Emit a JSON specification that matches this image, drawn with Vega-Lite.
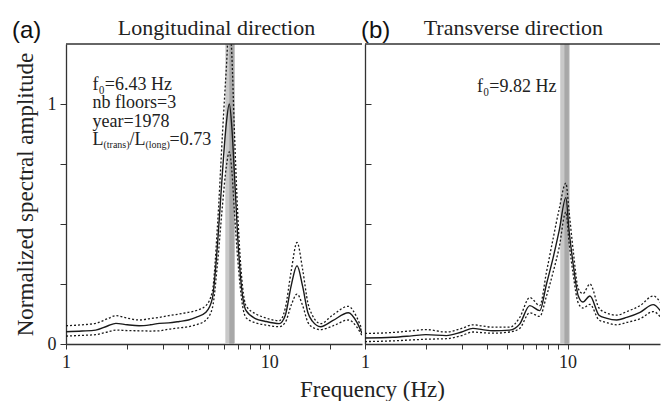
{
  "$schema": "https://vega.github.io/schema/vega-lite/v6.json",
  "padding": {"left": 12, "top": 17, "right": 0, "bottom": 0},
  "bounds": "flush",
  "spacing": 3,
  "config": {
    "view": {"stroke": null},
    "font": "Liberation Serif",
    "axis": {"grid": false, "domainColor": "#333", "tickColor": "#333", "domainWidth": 1.3, "labelFont": "Liberation Serif", "labelFontSize": 18, "labelColor": "#222", "titleFont": "Liberation Serif", "titleFontSize": 23, "titleFontWeight": "normal", "titleColor": "#222"}
  },
  "datasets": {
    "curves": [
      {"p": "a", "f": 1.0, "m": 0.051, "u": 0.076, "l": 0.033},
      {"p": "a", "f": 1.2, "m": 0.054, "u": 0.080, "l": 0.036},
      {"p": "a", "f": 1.4, "m": 0.058, "u": 0.086, "l": 0.039},
      {"p": "a", "f": 1.6, "m": 0.075, "u": 0.105, "l": 0.050},
      {"p": "a", "f": 1.76, "m": 0.086, "u": 0.118, "l": 0.058},
      {"p": "a", "f": 2.0, "m": 0.080, "u": 0.108, "l": 0.056},
      {"p": "a", "f": 2.29, "m": 0.076, "u": 0.100, "l": 0.055},
      {"p": "a", "f": 2.6, "m": 0.080, "u": 0.106, "l": 0.054},
      {"p": "a", "f": 2.88, "m": 0.086, "u": 0.111, "l": 0.055},
      {"p": "a", "f": 3.2, "m": 0.088, "u": 0.118, "l": 0.062},
      {"p": "a", "f": 3.61, "m": 0.094, "u": 0.125, "l": 0.067},
      {"p": "a", "f": 4.0, "m": 0.100, "u": 0.132, "l": 0.072},
      {"p": "a", "f": 4.36, "m": 0.111, "u": 0.139, "l": 0.080},
      {"p": "a", "f": 4.88, "m": 0.132, "u": 0.160, "l": 0.100},
      {"p": "a", "f": 5.25, "m": 0.19, "u": 0.22, "l": 0.15},
      {"p": "a", "f": 5.57, "m": 0.42, "u": 0.50, "l": 0.34},
      {"p": "a", "f": 5.89, "m": 0.72, "u": 0.88, "l": 0.58},
      {"p": "a", "f": 6.15, "m": 0.92, "u": 1.15, "l": 0.74},
      {"p": "a", "f": 6.36, "m": 1.0, "u": 1.35, "l": 0.80},
      {"p": "a", "f": 6.55, "m": 0.9, "u": 1.2, "l": 0.72},
      {"p": "a", "f": 6.73, "m": 0.72, "u": 0.9, "l": 0.56},
      {"p": "a", "f": 6.99, "m": 0.45, "u": 0.55, "l": 0.36},
      {"p": "a", "f": 7.39, "m": 0.2, "u": 0.24, "l": 0.16},
      {"p": "a", "f": 7.68, "m": 0.14, "u": 0.16, "l": 0.11},
      {"p": "a", "f": 8.6, "m": 0.105, "u": 0.125, "l": 0.088},
      {"p": "a", "f": 9.5, "m": 0.095, "u": 0.11, "l": 0.08},
      {"p": "a", "f": 11.2, "m": 0.085, "u": 0.097, "l": 0.072},
      {"p": "a", "f": 12.0, "m": 0.12, "u": 0.15, "l": 0.09},
      {"p": "a", "f": 12.8, "m": 0.24, "u": 0.3, "l": 0.16},
      {"p": "a", "f": 13.7, "m": 0.326, "u": 0.423, "l": 0.208},
      {"p": "a", "f": 14.6, "m": 0.24, "u": 0.31, "l": 0.16},
      {"p": "a", "f": 15.5, "m": 0.13, "u": 0.17, "l": 0.09},
      {"p": "a", "f": 16.3, "m": 0.095, "u": 0.12, "l": 0.07},
      {"p": "a", "f": 17.9, "m": 0.072, "u": 0.085, "l": 0.06},
      {"p": "a", "f": 20.5, "m": 0.097, "u": 0.12, "l": 0.075},
      {"p": "a", "f": 24.5, "m": 0.13, "u": 0.157, "l": 0.1},
      {"p": "a", "f": 27.0, "m": 0.09, "u": 0.11, "l": 0.07},
      {"p": "a", "f": 28.6, "m": 0.045, "u": 0.06, "l": 0.035},
      {"p": "b", "f": 1.0, "m": 0.025, "u": 0.044, "l": 0.010},
      {"p": "b", "f": 1.37, "m": 0.028, "u": 0.048, "l": 0.013},
      {"p": "b", "f": 1.7, "m": 0.034, "u": 0.055, "l": 0.017},
      {"p": "b", "f": 2.0, "m": 0.039, "u": 0.06, "l": 0.020},
      {"p": "b", "f": 2.52, "m": 0.035, "u": 0.05, "l": 0.022},
      {"p": "b", "f": 3.0, "m": 0.05, "u": 0.065, "l": 0.035},
      {"p": "b", "f": 3.41, "m": 0.065, "u": 0.08, "l": 0.05},
      {"p": "b", "f": 3.8, "m": 0.06, "u": 0.075, "l": 0.047},
      {"p": "b", "f": 4.28, "m": 0.055, "u": 0.07, "l": 0.045},
      {"p": "b", "f": 5.18, "m": 0.058, "u": 0.07, "l": 0.05},
      {"p": "b", "f": 5.8, "m": 0.083, "u": 0.11, "l": 0.065},
      {"p": "b", "f": 6.51, "m": 0.16, "u": 0.194, "l": 0.13},
      {"p": "b", "f": 7.29, "m": 0.139, "u": 0.16, "l": 0.115},
      {"p": "b", "f": 7.87, "m": 0.25, "u": 0.3, "l": 0.2},
      {"p": "b", "f": 8.49, "m": 0.36, "u": 0.44, "l": 0.3},
      {"p": "b", "f": 9.08, "m": 0.47, "u": 0.56, "l": 0.4},
      {"p": "b", "f": 9.81, "m": 0.61, "u": 0.67, "l": 0.55},
      {"p": "b", "f": 10.18, "m": 0.47, "u": 0.55, "l": 0.42},
      {"p": "b", "f": 10.66, "m": 0.333, "u": 0.39, "l": 0.29},
      {"p": "b", "f": 11.3, "m": 0.2, "u": 0.23, "l": 0.17},
      {"p": "b", "f": 11.9, "m": 0.175, "u": 0.21, "l": 0.15},
      {"p": "b", "f": 12.9, "m": 0.2, "u": 0.25, "l": 0.165},
      {"p": "b", "f": 14.3, "m": 0.12, "u": 0.15, "l": 0.1},
      {"p": "b", "f": 15.5, "m": 0.108, "u": 0.13, "l": 0.09},
      {"p": "b", "f": 17.5, "m": 0.1, "u": 0.12, "l": 0.08},
      {"p": "b", "f": 19.6, "m": 0.111, "u": 0.135, "l": 0.09},
      {"p": "b", "f": 22.8, "m": 0.132, "u": 0.16, "l": 0.105},
      {"p": "b", "f": 26.5, "m": 0.164, "u": 0.2, "l": 0.135},
      {"p": "b", "f": 28.9, "m": 0.135, "u": 0.17, "l": 0.11}
    ],
    "bands": [
      {"p": "a", "k": "outer", "lo": 6.08, "hi": 6.78},
      {"p": "a", "k": "inner", "lo": 6.36, "hi": 6.72},
      {"p": "b", "k": "outer", "lo": 9.2, "hi": 10.25},
      {"p": "b", "k": "inner", "lo": 9.65, "hi": 10.15}
    ]
  },
  "hconcat": [
    {
      "width": 296,
      "height": 300,
      "data": {"values": [{}]},
      "layer": [
        {
          "data": {"name": "bands"},
          "transform": [{"filter": "datum.p == 'a'"}],
          "mark": {"type": "rect", "clip": true},
          "encoding": {
            "x": {"field": "lo", "type": "quantitative", "scale": {"type": "log", "domain": [1, 28.6], "nice": false},
              "axis": {"title": "Frequency (Hz)", "values": [1, 2, 3, 4, 5, 6, 7, 8, 9, 10, 20], "labelExpr": "datum.value == 1 ? '1' : datum.value == 10 ? '10' : ''", "tickSize": 5, "labelPadding": 4, "titleX": 306, "titleY": 52, "titleBaseline": "alphabetic", "titleAlign": "center", "labelFlush": false, "labelOverlap": false}},
            "x2": {"field": "hi"},
            "color": {"field": "k", "type": "nominal", "scale": {"domain": ["outer", "inner"], "range": ["#c9c9c9", "#a8a8a8"]}, "legend": null}
          }
        },
        {
          "data": {"name": "curves"},
          "transform": [{"filter": "datum.p == 'a'"}],
          "layer": [
            {"mark": {"type": "line", "clip": true, "color": "#1a1a1a", "strokeWidth": 1.4, "interpolate": "monotone"},
             "encoding": {"x": {"field": "f", "type": "quantitative"},
               "y": {"field": "m", "type": "quantitative", "scale": {"domain": [0, 1.25], "nice": false},
                 "axis": {"title": "Normalized spectral amplitude", "values": [0, 0.25, 0.5, 0.75, 1], "labelExpr": "datum.value == 0 ? '0' : datum.value == 1 ? '1' : ''", "tickSize": 6, "labelPadding": 4, "titlePadding": 10}}}},
            {"mark": {"type": "line", "clip": true, "color": "#1a1a1a", "strokeWidth": 1.3, "strokeDash": [2, 2], "interpolate": "monotone"},
             "encoding": {"x": {"field": "f", "type": "quantitative"}, "y": {"field": "u", "type": "quantitative"}}},
            {"mark": {"type": "line", "clip": true, "color": "#1a1a1a", "strokeWidth": 1.3, "strokeDash": [2, 2], "interpolate": "monotone"},
             "encoding": {"x": {"field": "f", "type": "quantitative"}, "y": {"field": "l", "type": "quantitative"}}}
          ]
        },
        {"mark": {"type": "rule", "color": "#333", "strokeWidth": 1.3}, "encoding": {"y": {"datum": 1.25}}},
        {"mark": {"type": "text", "font": "Liberation Sans", "fontSize": 24, "align": "left", "baseline": "alphabetic", "dx": -54, "dy": -6.5, "color": "#111"},
         "encoding": {"x": {"datum": 1}, "y": {"datum": 1.25}, "text": {"value": "(a)"}}},
        {"mark": {"type": "text", "font": "Liberation Serif", "fontSize": 22, "align": "center", "baseline": "alphabetic", "dy": -9, "color": "#222"},
         "encoding": {"x": {"datum": 5.5}, "y": {"datum": 1.25}, "text": {"value": "Longitudinal direction"}}},
        {"mark": {"type": "text", "font": "Liberation Serif", "fontSize": 18, "lineHeight": 18.4, "align": "left", "baseline": "alphabetic", "color": "#222"},
         "encoding": {"x": {"datum": 1.35}, "y": {"datum": 1.058}, "text": {"value": ["f₀=6.43 Hz", "nb floors=3", "year=1978"]}}},
        {"mark": {"type": "text", "font": "Liberation Serif", "fontSize": 18, "align": "left", "baseline": "alphabetic", "color": "#222"},
         "encoding": {"x": {"datum": 1.35}, "y": {"datum": 0.829}, "text": {"value": "L"}}},
        {"mark": {"type": "text", "font": "Liberation Serif", "fontSize": 10, "align": "left", "baseline": "alphabetic", "dx": 11, "dy": 3, "color": "#222"},
         "encoding": {"x": {"datum": 1.35}, "y": {"datum": 0.829}, "text": {"value": "(trans)"}}},
        {"mark": {"type": "text", "font": "Liberation Serif", "fontSize": 18, "align": "left", "baseline": "alphabetic", "dx": 37, "color": "#222"},
         "encoding": {"x": {"datum": 1.35}, "y": {"datum": 0.829}, "text": {"value": "/L"}}},
        {"mark": {"type": "text", "font": "Liberation Serif", "fontSize": 10, "align": "left", "baseline": "alphabetic", "dx": 53, "dy": 3, "color": "#222"},
         "encoding": {"x": {"datum": 1.35}, "y": {"datum": 0.829}, "text": {"value": "(long)"}}},
        {"mark": {"type": "text", "font": "Liberation Serif", "fontSize": 18, "align": "left", "baseline": "alphabetic", "dx": 77, "color": "#222"},
         "encoding": {"x": {"datum": 1.35}, "y": {"datum": 0.829}, "text": {"value": "=0.73"}}}
      ]
    },
    {
      "width": 295,
      "height": 300,
      "data": {"values": [{}]},
      "layer": [
        {
          "data": {"name": "bands"},
          "transform": [{"filter": "datum.p == 'b'"}],
          "mark": {"type": "rect", "clip": true},
          "encoding": {
            "x": {"field": "lo", "type": "quantitative", "scale": {"type": "log", "domain": [1, 28.6], "nice": false},
              "axis": {"title": null, "values": [1, 2, 3, 4, 5, 6, 7, 8, 9, 10, 20], "labelExpr": "datum.value == 1 ? '1' : datum.value == 10 ? '10' : ''", "tickSize": 5, "labelPadding": 4, "labelFlush": false, "labelOverlap": false}},
            "x2": {"field": "hi"},
            "color": {"field": "k", "type": "nominal", "scale": {"domain": ["outer", "inner"], "range": ["#c9c9c9", "#a8a8a8"]}, "legend": null}
          }
        },
        {
          "data": {"name": "curves"},
          "transform": [{"filter": "datum.p == 'b'"}],
          "layer": [
            {"mark": {"type": "line", "clip": true, "color": "#1a1a1a", "strokeWidth": 1.4, "interpolate": "monotone"},
             "encoding": {"x": {"field": "f", "type": "quantitative"},
               "y": {"field": "m", "type": "quantitative", "scale": {"domain": [0, 1.25], "nice": false},
                 "axis": {"title": null, "values": [0, 0.25, 0.5, 0.75, 1], "labels": false, "tickSize": -6}}}},
            {"mark": {"type": "line", "clip": true, "color": "#1a1a1a", "strokeWidth": 1.3, "strokeDash": [2, 2], "interpolate": "monotone"},
             "encoding": {"x": {"field": "f", "type": "quantitative"}, "y": {"field": "u", "type": "quantitative"}}},
            {"mark": {"type": "line", "clip": true, "color": "#1a1a1a", "strokeWidth": 1.3, "strokeDash": [2, 2], "interpolate": "monotone"},
             "encoding": {"x": {"field": "f", "type": "quantitative"}, "y": {"field": "l", "type": "quantitative"}}}
          ]
        },
        {"mark": {"type": "rule", "color": "#333", "strokeWidth": 1.3}, "encoding": {"y": {"datum": 1.25}}},
        {"mark": {"type": "text", "font": "Liberation Sans", "fontSize": 24, "align": "left", "baseline": "alphabetic", "dx": -4, "dy": -6.5, "color": "#111"},
         "encoding": {"x": {"datum": 1}, "y": {"datum": 1.25}, "text": {"value": "(b)"}}},
        {"mark": {"type": "text", "font": "Liberation Serif", "fontSize": 22, "align": "center", "baseline": "alphabetic", "dy": -9, "color": "#222"},
         "encoding": {"x": {"datum": 5.4}, "y": {"datum": 1.25}, "text": {"value": "Transverse direction"}}},
        {"mark": {"type": "text", "font": "Liberation Serif", "fontSize": 18, "align": "right", "baseline": "alphabetic", "color": "#222"},
         "encoding": {"x": {"datum": 8.82}, "y": {"datum": 1.052}, "text": {"value": "f₀=9.82 Hz"}}}
      ]
    }
  ]
}
